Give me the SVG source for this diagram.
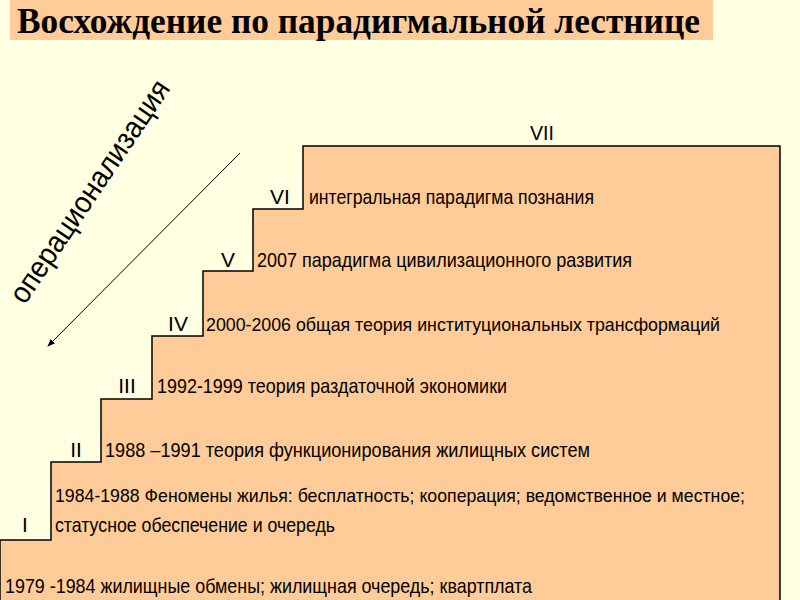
<svg xmlns="http://www.w3.org/2000/svg" width="800" height="600" viewBox="0 0 800 600">
<defs>
<style>
.lbl{font-family:"Liberation Sans",Arial,sans-serif;font-size:21px;fill:#000}
.num{font-family:"Liberation Sans",Arial,sans-serif;font-size:21px;fill:#000}
.long{font-size:19px}
</style>
<marker id="ah" markerWidth="8" markerHeight="8" refX="7" refY="4" orient="auto" markerUnits="userSpaceOnUse">
<path d="M0,1 L8,4 L0,7 Z" fill="#000"/>
</marker>
</defs>
<rect width="800" height="600" fill="#FFFFE1"/>
<g id="title">
<rect x="10" y="0" width="703" height="40" fill="#FFCC99"/>
<text x="17" y="33" font-family="Liberation Serif,Times New Roman,serif" font-weight="bold" font-size="35" textLength="683" lengthAdjust="spacingAndGlyphs">Восхождение по парадигмальной лестнице</text>
</g>
<g id="stairs">
<polygon points="0,600 0,540 51,540 51,462 101,462 101,399 152,399 152,336 203,336 203,271 253,271 253,209 303,209 303,146 780,146 780,600" fill="#FFCC99"/>
<polyline points="0,600 0,540 51,540 51,462 101,462 101,399 152,399 152,336 203,336 203,271 253,271 253,209 303,209 303,146 780,146 780,600" fill="none" stroke="#000" stroke-width="1.5"/>
</g>
<g id="step7"><text class="num" x="542" y="140" text-anchor="middle" textLength="24" lengthAdjust="spacingAndGlyphs">VII</text></g>
<g id="step6"><text class="num" x="280" y="204" text-anchor="middle">VI</text>
<text class="lbl" x="309" y="204" textLength="285" lengthAdjust="spacingAndGlyphs">интегральная парадигма познания</text></g>
<g id="step5"><text class="num" x="228" y="267" text-anchor="middle">V</text>
<text class="lbl" x="257" y="267" textLength="375" lengthAdjust="spacingAndGlyphs">2007 парадигма цивилизационного развития</text></g>
<g id="step4"><text class="num" x="178" y="331" text-anchor="middle">IV</text>
<text class="lbl long" x="206" y="331" textLength="514" lengthAdjust="spacingAndGlyphs">2000-2006 общая теория институциональных трансформаций</text></g>
<g id="step3"><text class="num" x="127" y="393" text-anchor="middle">III</text>
<text class="lbl" x="157" y="393" textLength="350" lengthAdjust="spacingAndGlyphs">1992-1999 теория раздаточной экономики</text></g>
<g id="step2"><text class="num" x="76" y="457" text-anchor="middle">II</text>
<text class="lbl" x="105" y="457" textLength="485" lengthAdjust="spacingAndGlyphs">1988 –1991 теория функционирования жилищных систем</text></g>
<g id="step1"><text class="num" x="25" y="532" text-anchor="middle">I</text>
<text class="lbl long" x="55" y="502" textLength="690" lengthAdjust="spacingAndGlyphs">1984-1988 Феномены жилья: бесплатность; кооперация; ведомственное и местное;</text>
<text class="lbl" x="55" y="532" textLength="280" lengthAdjust="spacingAndGlyphs">статусное обеспечение и очередь</text></g>
<g id="step0"><text class="lbl" x="5" y="593" textLength="527" lengthAdjust="spacingAndGlyphs">1979 -1984 жилищные обмены; жилищная очередь; квартплата</text></g>
<g id="connectors">
<line x1="240" y1="153" x2="48" y2="346" stroke="#000" stroke-width="1" marker-end="url(#ah)"/>
</g>
<g id="operationalization">
<text x="0" y="0" transform="translate(98,197) rotate(-56)" text-anchor="middle" font-family="Liberation Sans,Arial,sans-serif" font-size="30" textLength="262" lengthAdjust="spacingAndGlyphs">операционализация</text>
</g>
</svg>
